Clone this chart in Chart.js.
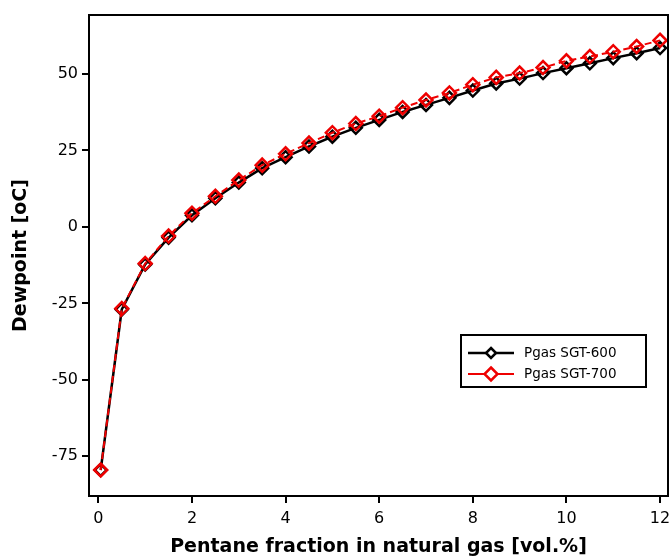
<!DOCTYPE html>
<html>
<head>
<meta charset="utf-8">
<title>Dewpoint vs pentane fraction</title>
<script src="https://cdn.jsdelivr.net/npm/chart.js@4/dist/chart.umd.min.js"></script>
<style>
  html, body { margin: 0; padding: 0; background: #ffffff; }
  #wrap { width: 671px; height: 557px; position: relative; }
</style>
</head>
<body>
<div id="wrap"><canvas id="c"></canvas></div>
<script>
// Pentane fraction in natural gas [vol.%]
const pentane = [0.05, 0.5, 1, 1.5, 2, 2.5, 3, 3.5, 4, 4.5, 5, 5.5, 6, 6.5, 7, 7.5, 8, 8.5, 9, 9.5, 10, 10.5, 11, 11.5, 12];
// Dewpoint [oC] for each gas pressure
const dewSGT600 = [-79.5, -27.0, -12.3, -3.5, 3.8, 9.4, 14.5, 19.2, 22.8, 26.3, 29.5, 32.4, 35.0, 37.6, 39.9, 42.2, 44.6, 46.9, 48.5, 50.3, 51.9, 53.5, 55.2, 56.8, 58.5];
const dewSGT700 = [-79.5, -26.7, -12.0, -3.0, 4.5, 10.0, 15.3, 20.2, 23.9, 27.4, 30.8, 33.8, 36.2, 39.0, 41.5, 43.8, 46.5, 48.9, 50.3, 52.1, 54.3, 55.7, 57.3, 59.0, 61.0];
const seriesNames = ['Pgas SGT-600', 'Pgas SGT-700'];
const xTicks = [0, 2, 4, 6, 8, 10, 12];
const yTicks = [-75, -50, -25, 0, 25, 50];

const FONT = "'DejaVu Sans', Verdana, sans-serif";

const toPoints = (ys) => ys.map((y, i) => ({ x: pentane[i], y }));

// Closes the plot frame on top and right
const framePlugin = {
  id: 'frame',
  afterDraw(chart) {
    const { ctx, chartArea: a } = chart;
    ctx.save();
    ctx.strokeStyle = '#000';
    ctx.lineWidth = 2;
    ctx.beginPath();
    ctx.moveTo(a.left, a.top);
    ctx.lineTo(a.right, a.top);
    ctx.lineTo(a.right, a.bottom);
    ctx.stroke();
    ctx.restore();
  }
};

// Boxed legend inside the plot area
const boxLegend = {
  id: 'boxLegend',
  afterDraw(chart) {
    const { ctx } = chart;
    const x0 = 461, y0 = 335, w = 185, h = 52;
    ctx.save();
    ctx.fillStyle = '#fff';
    ctx.fillRect(x0, y0, w, h);
    ctx.strokeStyle = '#000';
    ctx.lineWidth = 2;
    ctx.strokeRect(x0, y0, w, h);
    const rows = [353, 374];
    chart.data.datasets.forEach((ds, i) => {
      const y = rows[i];
      ctx.strokeStyle = ds.borderColor;
      ctx.lineWidth = ds.borderWidth;
      ctx.setLineDash([]);
      ctx.beginPath();
      ctx.moveTo(468, y);
      ctx.lineTo(514, y);
      ctx.stroke();
      ctx.lineWidth = ds.pointBorderWidth;
      const r = i === 0 ? 5 : ds.pointRadius;
      ctx.fillStyle = '#fff';
      ctx.beginPath();
      ctx.moveTo(491, y - r);
      ctx.lineTo(491 + r, y);
      ctx.lineTo(491, y + r);
      ctx.lineTo(491 - r, y);
      ctx.closePath();
      ctx.fill();
      ctx.stroke();
      ctx.fillStyle = '#000';
      ctx.font = '13.5px ' + FONT;
      ctx.textBaseline = 'middle';
      ctx.fillText(ds.label, 524, y);
    });
    ctx.restore();
  }
};

new Chart(document.getElementById('c'), {
  type: 'line',
  data: {
    datasets: [
      {
        label: seriesNames[0],
        data: toPoints(dewSGT600),
        borderColor: '#000000',
        borderWidth: 2.5,
        pointStyle: 'rectRot',
        pointRadius: 6,
        pointBorderWidth: 2.5,
        pointBorderColor: '#000000',
        pointBackgroundColor: 'rgba(0,0,0,0)',
        order: 1
      },
      {
        label: seriesNames[1],
        data: toPoints(dewSGT700),
        borderColor: '#ee0000',
        borderWidth: 2,
        borderDash: [7, 4],
        pointStyle: 'rectRot',
        pointRadius: 6.5,
        pointBorderWidth: 2.5,
        pointBorderColor: '#ee0000',
        pointBackgroundColor: 'rgba(0,0,0,0)',
        order: 0
      }
    ]
  },
  options: {
    responsive: true,
    maintainAspectRatio: false,
    animation: false,
    layout: { autoPadding: false, padding: { top: 15, right: 3, left: 0, bottom: 0 } },
    plugins: { legend: { display: false }, tooltip: { enabled: false } },
    scales: {
      x: {
        type: 'linear',
        min: -0.2,
        max: 12.17,
        afterBuildTicks(scale) { scale.ticks = xTicks.map(v => ({ value: v })); },
        afterFit(scale) {
          // let the outer tick labels overhang instead of shrinking the plot
          scale.height = 61;
          scale.paddingLeft = 0;
          scale.paddingRight = 0;
          if (scale._margins) { scale._margins.left = 0; scale._margins.right = 0; }
        },
        grid: { drawOnChartArea: false, drawTicks: true, tickLength: 7, color: '#000', lineWidth: 2 },
        border: { display: true, color: '#000', width: 2 },
        ticks: { color: '#000', font: { family: FONT, size: 16 }, padding: 6, maxRotation: 0 },
        title: {
          display: true,
          text: 'Pentane fraction in natural gas [vol.%]',
          color: '#000',
          font: { family: FONT, size: 19, weight: 'bold', lineHeight: 1 },
          padding: { top: 0, bottom: 0 }
        }
      },
      y: {
        type: 'linear',
        min: -88,
        max: 69.3,
        afterBuildTicks(scale) { scale.ticks = yTicks.map(v => ({ value: v })); },
        afterFit(scale) { scale.width = 89; },
        grid: { drawOnChartArea: false, drawTicks: true, tickLength: 7, color: '#000', lineWidth: 2 },
        border: { display: true, color: '#000', width: 2 },
        ticks: { color: '#000', font: { family: FONT, size: 16 }, padding: 4 },
        title: {
          display: true,
          text: 'Dewpoint [oC]',
          color: '#000',
          font: { family: FONT, size: 19, weight: 'bold', lineHeight: 1 },
          padding: { top: 12, bottom: 0 }
        }
      }
    }
  },
  plugins: [framePlugin, boxLegend]
});
</script>
</body>
</html>
